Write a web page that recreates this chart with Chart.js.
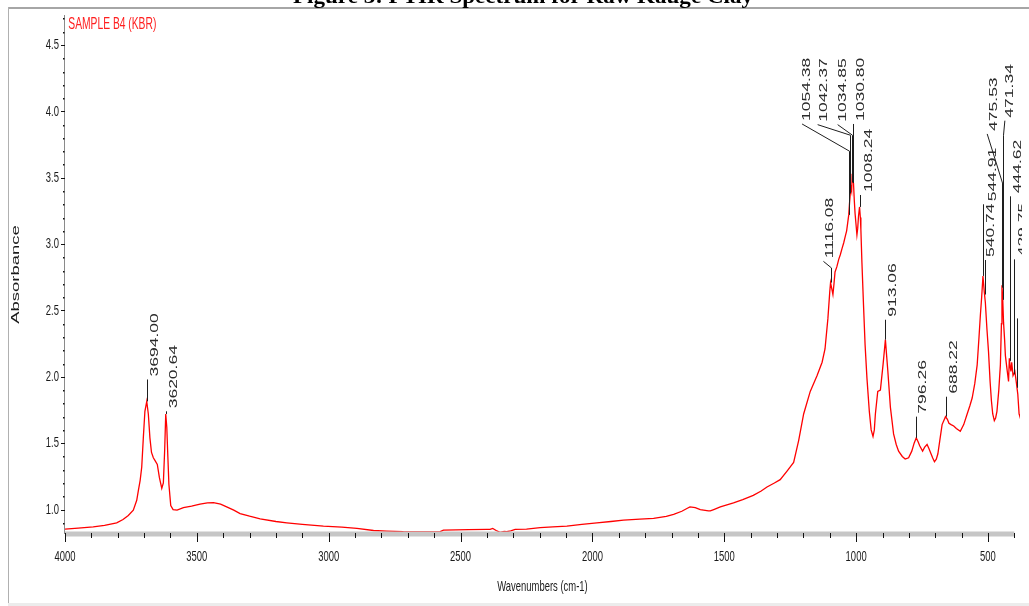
<!DOCTYPE html>
<html>
<head>
<meta charset="utf-8">
<script src="https://cdn.jsdelivr.net/npm/chart.js@4.4.1/dist/chart.umd.min.js"></script>
<style>
  html, body { margin: 0; padding: 0; background: #fff; overflow: hidden; }
  #wrap { position: relative; width: 1029px; height: 606px; }
  .frame-top { position: absolute; left: 8px; top: 7px; width: 1021px; height: 2px; background: #a6a6a6; }
  .frame-left { position: absolute; left: 8px; top: 7px; width: 1px; height: 596px; background: #b0b0b0; }
  .frame-bottom { position: absolute; left: 8px; top: 603px; width: 1021px; height: 3px; background: #ececec; }
  canvas { position: absolute; left: 0; top: 0; }
</style>
</head>
<body>
<div id="wrap">
  <div class="frame-top"></div>
  <div class="frame-left"></div>
  <div class="frame-bottom"></div>
  <canvas id="c" width="1029" height="606"></canvas>
</div>
<script>
// ---- data ----
const wavenumbers = [4000,3950,3893,3850,3804,3780,3760,3741,3728,3722,3715,3709,3703,3697,3690,3684,3678,3672,3665,3659,3650,3642,3633,3627,3622,3618,3614,3610,3606,3599,3590,3575,3551,3520,3488,3460,3437,3410,3387,3360,3336,3300,3260,3200,3159,3100,3020,2950,2893,2830,2780,2717,2650,2577,2565,2470,2400,2388,2378,2365,2350,2335,2325,2310,2293,2250,2198,2150,2097,2040,1983,1930,1882,1820,1768,1720,1692,1661,1640,1630,1610,1591,1560,1553,1540,1515,1465,1430,1390,1360,1338,1310,1288,1262,1237,1218,1199,1174,1148,1129,1118,1107,1100,1097,1092,1088,1084,1080,1073,1066,1060,1053,1047,1041,1036,1032,1028,1025,1020,1017,1015,1012,1010,1007,1004,997,994,991,987,984,982,978,972,966,959,950,943,936,931,927,918,908,898,889,884,880,870,858,848,839,825,814,801,789,780,772,765,759,748,740,731,724,718,710,703,696,690,682,674,661,654,648,640,630,620,605,592,579,569,560,550,541,534,529,524,519,517,514,510,504,498,492,487,482,476,471,466,459,453,449,447,444,441,437,434,428,422,419,416,413,410,405,398,393,387,382,379];
const absorbance = [0.853,0.86,0.87,0.88,0.90,0.925,0.955,0.995,1.07,1.14,1.22,1.32,1.54,1.74,1.815,1.72,1.54,1.43,1.39,1.37,1.34,1.24,1.16,1.20,1.45,1.72,1.62,1.40,1.19,1.03,1.0,0.995,1.015,1.025,1.04,1.05,1.052,1.04,1.02,0.995,0.97,0.95,0.93,0.91,0.90,0.888,0.875,0.868,0.858,0.842,0.838,0.833,0.832,0.833,0.845,0.848,0.85,0.85,0.858,0.842,0.828,0.835,0.833,0.84,0.85,0.853,0.863,0.87,0.875,0.888,0.90,0.91,0.92,0.928,0.933,0.948,0.963,0.987,1.01,1.02,1.015,1.0,0.99,0.99,1.0,1.02,1.05,1.075,1.107,1.14,1.17,1.20,1.225,1.29,1.355,1.52,1.72,1.89,2.01,2.11,2.21,2.44,2.64,2.71,2.66,2.62,2.70,2.79,2.83,2.885,2.92,2.97,3.01,3.06,3.10,3.16,3.22,3.31,3.43,3.40,3.53,3.47,3.46,3.33,3.23,3.07,3.12,3.21,3.28,3.20,3.11,2.86,2.54,2.24,1.99,1.74,1.60,1.55,1.60,1.72,1.89,1.90,2.09,2.28,2.15,2.05,1.77,1.57,1.49,1.44,1.40,1.38,1.39,1.44,1.50,1.54,1.51,1.48,1.44,1.47,1.49,1.46,1.43,1.39,1.36,1.38,1.42,1.53,1.64,1.70,1.68,1.65,1.64,1.63,1.61,1.59,1.64,1.72,1.78,1.84,1.95,2.09,2.30,2.46,2.60,2.76,2.71,2.64,2.56,2.36,2.19,1.965,1.82,1.72,1.67,1.69,1.74,1.90,2.09,2.40,2.69,2.58,2.41,2.28,2.16,2.06,1.965,2.14,2.08,2.04,2.11,2.01,2.04,1.965,1.87,1.72,1.70];
const xTicks = [4000,3500,3000,2500,2000,1500,1000,500];
const yTicks = [1.0,1.5,2.0,2.5,3.0,3.5,4.0,4.5];
const seriesName = 'SAMPLE B4 (KBR)';
const figureTitle = 'Figure 3: FTIR Spectrum for Raw Kauge Clay';
const xTitle = 'Wavenumbers (cm-1)';
const yTitle = 'Absorbance';
// peak annotations: label text, leader position (cm-1) and leader top (absorbance)
const peakText = ['3694.00','3620.64','1116.08','1054.38','1042.37','1034.85','1030.80','1008.24','913.06','796.26','688.22','544.91','540.74','475.53','471.34','444.62','429.75',''];
const peakAt   = [3690,3618,1097,1028,1022,1016,1010,987,889,772,661,519,513,446.5,444,418,403,390];
const peakTop  = [1.98,1.74,2.82,3.70,3.82,3.82,3.905,3.37,2.43,1.70,1.85,3.30,2.88,3.46,3.82,3.36,2.885,2.44];
const peakKink = [null,null,[1124,2.87],[1205,3.905],[1146,3.90],[1070,3.90],null,null,null,null,null,null,null,[503,3.83],[436,3.93],null,null,null];
const peakDx   = [7,7.5,6.5,4.5,6,5.5,7.7,8,7.3,6.3,7.3,9,5.5,6.3,5.5,7.7,8.7,0];

function specAt(w) {
  for (let i = 0; i < wavenumbers.length - 1; i++) {
    const a = wavenumbers[i], b = wavenumbers[i+1];
    if (w <= a && w >= b) {
      const t = (a - w) / (a - b);
      return absorbance[i] + t * (absorbance[i+1] - absorbance[i]);
    }
  }
  return absorbance[absorbance.length-1];
}

const SQX = 0.63; // horizontal squeeze of the original picture's lettering
// text whose font family list contains "sqz" is drawn horizontally squeezed
const origFill = CanvasRenderingContext2D.prototype.fillText;
CanvasRenderingContext2D.prototype.fillText = function (t, x, y, mw) {
  if (String(this.font).indexOf('sqz') >= 0) {
    this.save();
    this.translate(x, y);
    this.scale(SQX, 1);
    if (mw === undefined || mw === null) origFill.call(this, t, 0, 0);
    else origFill.call(this, t, 0, 0, mw / SQX);
    this.restore();
    return;
  }
  if (mw === undefined || mw === null) return origFill.call(this, t, x, y);
  return origFill.call(this, t, x, y, mw);
};
const tickFont = "'Liberation Sans', Arial, sqz";

const decor = {
  id: 'decor',
  afterDraw(chart) {
    const {ctx, chartArea: ca, scales: {x, y}} = chart;
    ctx.save();
    // x axis band
    const xs = x.getPixelForValue(4000), xe = x.getPixelForValue(400);
    ctx.fillStyle = '#c6c6c6';
    ctx.fillRect(xs, ca.bottom - 2.5, xe - xs, 5);
    // x ticks
    ctx.fillStyle = '#111';
    for (let w = 4000; w >= 400; w -= 100) {
      const px = Math.round(x.getPixelForValue(w));
      const major = (w % 500 === 0);
      ctx.fillRect(px, ca.bottom - 1, 1, major ? 9 : 5);
    }
    // y axis line
    ctx.fillStyle = '#8a8a8a';
    ctx.fillRect(Math.round(ca.left) - 1, ca.top, 1, ca.bottom - ca.top);
    ctx.fillStyle = '#111';
    for (let k = 9; k <= 47; k++) {
      const v = k / 10;
      const py = Math.round(y.getPixelForValue(v));
      if (k % 5 === 0) ctx.fillRect(ca.left - 4, py, 4, 1);
      else ctx.fillRect(ca.left - 2, py, 1.5, 1.5);
    }
    // y title
    ctx.fillStyle = '#1a1a1a';
    ctx.save();
    ctx.translate(16, (ca.top + ca.bottom) / 2);
    ctx.scale(SQX, 1);
    ctx.rotate(-Math.PI / 2);
    ctx.font = "18.5px 'Liberation Sans', Arial, sans-serif";
    ctx.textAlign = 'center'; ctx.textBaseline = 'middle';
    ctx.fillText(yTitle, 0, 0);
    ctx.restore();
    // series name
    ctx.save();
    ctx.fillStyle = '#ff1f1f';
    ctx.translate(ca.left + 3.3, 29.3);
    ctx.scale(0.605, 1);
    ctx.font = "17px 'Liberation Sans', Arial, sans-serif";
    ctx.textAlign = 'left'; ctx.textBaseline = 'alphabetic';
    ctx.fillText(chart.data.datasets[0].label, 0, 0);
    ctx.restore();
    // figure caption (cut off at the top)
    ctx.save();
    ctx.font = "bold 22px 'Liberation Serif', 'Times New Roman', serif";
    const tw = ctx.measureText(figureTitle).width;
    ctx.translate(293, 3);
    ctx.scale(460 / tw, 1);
    ctx.fillStyle = '#000';
    ctx.textAlign = 'left'; ctx.textBaseline = 'alphabetic';
    ctx.fillText(figureTitle, 0, 0);
    ctx.restore();
    // peak labels
    ctx.save();
    ctx.beginPath(); ctx.rect(0, 0, ca.right + 2, 606); ctx.clip();
    ctx.strokeStyle = '#1e1e1e'; ctx.lineWidth = 1;
    ctx.fillStyle = '#2a2a2a';
    ctx.font = "17.5px 'Liberation Sans', Arial, sans-serif";
    for (let i = 0; i < peakText.length; i++) {
      const px = Math.round(x.getPixelForValue(peakAt[i])) + 0.5;
      const py = y.getPixelForValue(specAt(peakAt[i]));
      const ty = y.getPixelForValue(peakTop[i]);
      ctx.beginPath(); ctx.moveTo(px, py); ctx.lineTo(px, ty);
      let ex = px, ey = ty;
      if (peakKink[i]) {
        ex = x.getPixelForValue(peakKink[i][0]); ey = y.getPixelForValue(peakKink[i][1]);
        ctx.lineTo(ex, ey);
      }
      ctx.stroke();
      if (!peakText[i]) continue;
      ctx.save();
      ctx.translate(ex + peakDx[i], ey - 3);
      ctx.scale(SQX, 1);
      ctx.rotate(-Math.PI / 2);
      ctx.textAlign = 'left'; ctx.textBaseline = 'middle';
      ctx.fillText(peakText[i], 0, 0);
      ctx.restore();
    }
    ctx.restore();
    ctx.restore();
  }
};

new Chart(document.getElementById('c'), {
  type: 'line',
  data: {
    datasets: [{
      label: seriesName,
      data: wavenumbers.map((w, i) => ({x: w, y: absorbance[i]})),
      borderColor: '#ff0000',
      borderWidth: 1.3,
      pointRadius: 0,
      tension: 0,
      fill: false
    }]
  },
  options: {
    responsive: false,
    animation: false,
    layout: { padding: { top: 10, right: 9, bottom: 0, left: 0 } },
    plugins: { legend: { display: false }, tooltip: { enabled: false } },
    scales: {
      x: {
        type: 'linear', reverse: true, min: 378.6, max: 4000,
        afterBuildTicks: s => { s.ticks = xTicks.map(v => ({value: v})); },
        afterFit: s => { s.height = 72; },
        grid: { display: false, drawTicks: false, tickLength: 0 },
        border: { display: false },
        ticks: { padding: 14, color: '#1a1a1a', maxRotation: 0, autoSkip: false,
                 font: { family: tickFont, size: 15 }, callback: v => String(v) },
        title: { display: true, text: xTitle, color: '#1a1a1a',
                 font: { family: tickFont, size: 15 }, padding: { top: 10, bottom: 10 } }
      },
      y: {
        type: 'linear', min: 0.8157, max: 4.7261,
        afterBuildTicks: s => { s.ticks = yTicks.map(v => ({value: v})); },
        afterFit: s => { s.width = 65; },
        grid: { display: false, drawTicks: false, tickLength: 0 },
        border: { display: false },
        ticks: { padding: 6, color: '#1a1a1a', autoSkip: false,
                 font: { family: tickFont, size: 15 }, callback: v => Number(v).toFixed(1) },
        title: { display: false }
      }
    }
  },
  plugins: [decor]
});
</script>
</body>
</html>
